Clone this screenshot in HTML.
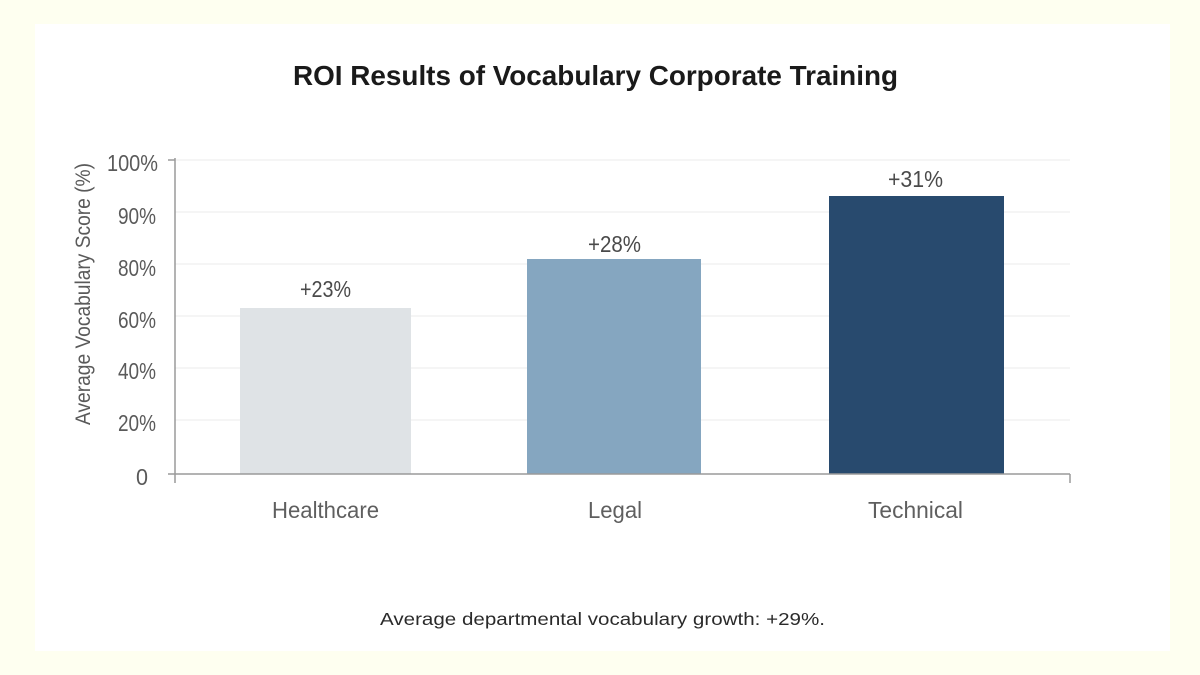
<!DOCTYPE html>
<html><head><meta charset="utf-8"><style>
html,body{margin:0;padding:0;background:#fefff0;}
svg{display:block;}
</style></head><body>
<svg width="1200" height="675" viewBox="0 0 1200 675" xmlns="http://www.w3.org/2000/svg">
<rect x="0" y="0" width="1200" height="675" fill="#fefff0"/>
<rect x="35" y="24" width="1135" height="627" fill="#ffffff"/>
<text x="293" y="85" font-family="Liberation Sans, sans-serif" font-size="28" font-weight="bold" fill="#1a1a1a" textLength="605" lengthAdjust="spacingAndGlyphs">ROI Results of Vocabulary Corporate Training</text>
<g stroke="#ebebeb" stroke-width="1">
<line x1="175" y1="160" x2="1070" y2="160"/>
<line x1="175" y1="212" x2="1070" y2="212"/>
<line x1="175" y1="264" x2="1070" y2="264"/>
<line x1="175" y1="316" x2="1070" y2="316"/>
<line x1="175" y1="368" x2="1070" y2="368"/>
<line x1="175" y1="420" x2="1070" y2="420"/>
</g>
<rect x="240" y="308" width="171" height="166" fill="#dfe3e6"/>
<rect x="527" y="259" width="174" height="215" fill="#85a6c0"/>
<rect x="829" y="196" width="175" height="278" fill="#284a6e"/>
<g stroke="#9a9a9a" stroke-width="1.5" fill="none">
<line x1="175" y1="158" x2="175" y2="483"/>
<line x1="168" y1="474" x2="1070" y2="474"/>
<line x1="1070" y1="474" x2="1070" y2="483"/>
<line x1="168" y1="160" x2="175" y2="160"/>
</g>
<g font-family="Liberation Sans, sans-serif" font-size="23" fill="#5a5a5a" text-anchor="end">
<text x="158" y="171" textLength="51" lengthAdjust="spacingAndGlyphs">100%</text>
<text x="156" y="224" textLength="38" lengthAdjust="spacingAndGlyphs">90%</text>
<text x="156" y="276" textLength="38" lengthAdjust="spacingAndGlyphs">80%</text>
<text x="156" y="328" textLength="38" lengthAdjust="spacingAndGlyphs">60%</text>
<text x="156" y="379" textLength="38" lengthAdjust="spacingAndGlyphs">40%</text>
<text x="156" y="431" textLength="38" lengthAdjust="spacingAndGlyphs">20%</text>
<text x="148" y="485" textLength="12" lengthAdjust="spacingAndGlyphs">0</text>
</g>
<text transform="translate(90,294) rotate(-90)" font-family="Liberation Sans, sans-serif" font-size="21" fill="#5a5a5a" text-anchor="middle" textLength="262" lengthAdjust="spacingAndGlyphs">Average Vocabulary Score (%)</text>
<g font-family="Liberation Sans, sans-serif" font-size="23" fill="#4a4a4a">
<text x="300" y="297" textLength="51" lengthAdjust="spacingAndGlyphs">+23%</text>
<text x="588" y="252" textLength="53" lengthAdjust="spacingAndGlyphs">+28%</text>
<text x="888" y="187" textLength="55" lengthAdjust="spacingAndGlyphs">+31%</text>
</g>
<g font-family="Liberation Sans, sans-serif" font-size="23" fill="#5f5f5f">
<text x="272" y="518" textLength="107" lengthAdjust="spacingAndGlyphs">Healthcare</text>
<text x="588" y="518" textLength="54" lengthAdjust="spacingAndGlyphs">Legal</text>
<text x="868" y="518" textLength="95" lengthAdjust="spacingAndGlyphs">Technical</text>
</g>
<text x="380" y="625" font-family="Liberation Sans, sans-serif" font-size="17.5" fill="#2a2a2a" textLength="445" lengthAdjust="spacingAndGlyphs">Average departmental vocabulary growth: +29%.</text>
</svg>
</body></html>
